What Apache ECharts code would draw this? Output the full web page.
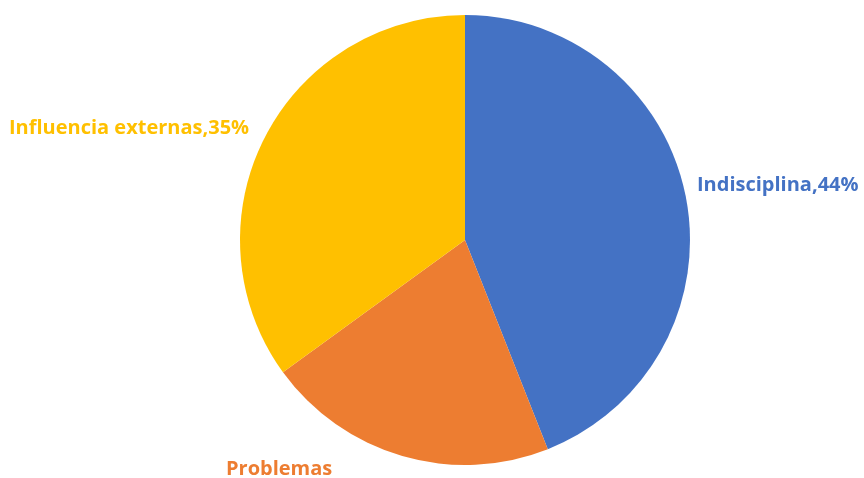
<!DOCTYPE html>
<html>
<head>
<meta charset="utf-8">
<script src="https://cdn.jsdelivr.net/npm/echarts@6/dist/echarts.min.js"></script>
<style>
  html, body { margin: 0; padding: 0; background: #fff; }
  #chart { width: 864px; height: 478px; }
</style>
</head>
<body>
<div id="chart"></div>
<script>
// Causes and their share, in percent
const categories = ['Indisciplina', 'Problemas', 'Influencia externas'];
const shares = [44, 21, 35];
const colors = ['#4472C4', '#ED7D31', '#FFC000'];
// Which slices print their percentage next to the name
const showValue = [true, false, true];

// Label anchor points (left edge, vertical middle) in pixels
const labelSpots = [
  { x: 697, y: 185 },
  { x: 226, y: 469 },
  { x: 9, y: 128 }
];

const chart = echarts.init(document.getElementById('chart'));
chart.setOption({
  animation: false,
  series: [{
    type: 'pie',
    center: [465, 240],
    radius: 225,
    startAngle: 90,
    clockwise: true,
    data: categories.map((name, i) => ({
      name,
      value: shares[i],
      itemStyle: { color: colors[i] },
      label: { color: colors[i] }
    })),
    itemStyle: { borderWidth: 0 },
    label: {
      show: true,
      position: 'outside',
      fontFamily: 'Open Sans',
      fontWeight: 'bold',
      fontSize: 20,
      overflow: 'none',
      formatter: p => showValue[p.dataIndex] ? p.name + ',' + p.value + '%' : p.name
    },
    labelLine: { show: false },
    labelLayout: p => ({
      x: labelSpots[p.dataIndex].x,
      y: labelSpots[p.dataIndex].y,
      align: 'left',
      verticalAlign: 'middle',
      hideOverlap: false
    })
  }]
});
</script>
</body>
</html>
